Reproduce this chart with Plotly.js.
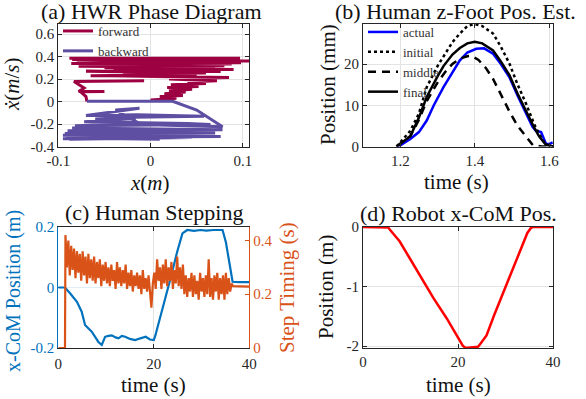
<!DOCTYPE html>
<html>
<head>
<meta charset="utf-8">
<script src="https://cdn.plot.ly/plotly-3.0.1.min.js"></script>
<style>
  html, body { margin: 0; padding: 0; background: #fff; }
  #chart { width: 586px; height: 399px; }
</style>
</head>
<body>
<div id="chart"></div>
<script>
// (a) phase diagram, null breaks the line
const fwdX = [-0.088, 0.097, -0.085, 0.107, -0.080, 0.092, -0.072, 0.098, -0.086, 0.088, -0.060, 0.080, -0.078, 0.070, -0.050, 0.090, -0.040, 0.076, -0.070, 0.060, -0.030, 0.050, -0.065, 0.030, -0.040, 0.085, 0.020, 0.072, 0.040, 0.060, 0.022, 0.052, 0.018, 0.045, 0.020, 0.038, 0.015, 0.035, 0.010, 0.028, 0.000, 0.024,
  null, -0.007, -0.083, -0.072, -0.078, -0.050, -0.076, -0.070, -0.069];
const fwdY = [0.385, 0.385, 0.375, 0.362, 0.368, 0.355, 0.350, 0.345, 0.338, 0.335, 0.328, 0.318, 0.315, 0.305, 0.300, 0.285, 0.285, 0.268, 0.270, 0.255, 0.250, 0.240, 0.230, 0.228, 0.228, 0.215, 0.200, 0.185, 0.175, 0.160, 0.150, 0.135, 0.125, 0.110, 0.095, 0.085, 0.070, 0.055, 0.045, 0.030, 0.015, 0.012,
  null, 0.185, 0.178, 0.120, 0.090, 0.090, 0.088, 0.045, 0.000];
const bwdX = [-0.069, 0.024, 0.050, 0.078, -0.010, -0.038, -0.012, -0.070, -0.015, 0.058, -0.020, -0.060, -0.016, -0.072, 0.040, 0.065, -0.082, -0.015, -0.085, 0.078, -0.090, 0.070, -0.093, 0.050, -0.095, 0.076, -0.090, 0.030, -0.095, 0.060, -0.088, 0.045, -0.092, 0.010];
const bwdY = [0.002, 0.002, -0.075, -0.225, -0.205, -0.075, -0.060, -0.125, -0.118, -0.130, -0.140, -0.155, -0.150, -0.180, -0.195, -0.205, -0.215, -0.200, -0.235, -0.250, -0.260, -0.280, -0.285, -0.270, -0.300, -0.310, -0.320, -0.300, -0.330, -0.310, -0.335, -0.320, -0.325, -0.335];

// (b) foot height, mm
const actT = [1.19, 1.2, 1.227, 1.25, 1.271, 1.29, 1.316, 1.34, 1.36, 1.38, 1.404, 1.425, 1.449, 1.47, 1.493, 1.515, 1.538, 1.555, 1.564, 1.578, 1.591, 1.6, 1.609];
const actZ = [0, 0.3, 1.8, 3.5, 6.3, 10, 14.4, 18, 20.9, 22.8, 23.7, 23.8, 22.5, 20, 16.8, 12.3, 7.9, 4.8, 3.8, 3.5, 0.7, 0.6, 1.0];
const estT = [1.19, 1.227, 1.25, 1.271, 1.3, 1.316, 1.34, 1.36, 1.38, 1.4, 1.42, 1.449, 1.47, 1.493, 1.515, 1.538, 1.56, 1.573, 1.59, 1.61];
const initZ = [0, 3.8, 8, 14.4, 19.5, 21.7, 25.3, 27.4, 29.2, 29.7, 29.2, 27.4, 24.2, 20.1, 15, 10.3, 5.3, 3, 0.5, 0];
const finalZ = [0, 2.5, 7, 12, 17, 19.5, 22.3, 23.9, 25, 25.4, 25, 23.3, 20.6, 17.3, 12.8, 8.5, 4.5, 2.4, 0.5, 0];
const midT = [1.19, 1.227, 1.25, 1.271, 1.3, 1.32, 1.34, 1.36, 1.38, 1.39, 1.41, 1.43, 1.449, 1.47, 1.493, 1.515, 1.538, 1.556, 1.58, 1.61];
const midZ = [0, 2.5, 6.5, 11, 15.5, 18, 20, 21.3, 21.9, 22, 21, 19, 16.4, 12.5, 8.5, 5, 2.4, 0.3, 0, 0];

// (c) human stepping
const comT = [0, 1.4, 2.5, 3.9, 4.9, 5.6, 7.0, 8.4, 9.1, 9.8, 10.5, 11.2, 12.0, 12.6, 13.3, 14.0, 15.0, 16.1, 17.2, 18.3, 19.2, 20.0, 20.3, 21.0, 22.1, 23.5, 24.9, 26.0, 27.0, 28.4, 29.8, 31.0, 32.5, 33.3, 34.4, 35.1, 35.8, 36.5, 38.0, 40];
const comX = [0, 0, -0.02, -0.047, -0.08, -0.124, -0.146, -0.18, -0.19, -0.163, -0.16, -0.158, -0.165, -0.168, -0.16, -0.163, -0.17, -0.174, -0.168, -0.163, -0.172, -0.174, -0.16, -0.12, -0.059, 0.03, 0.118, 0.179, 0.19, 0.187, 0.19, 0.188, 0.19, 0.19, 0.19, 0.15, 0.085, 0.019, 0.018, 0.018];
const stepT = [0, 1.4,
  1.5, 1.8, 2.1, 2.4, 2.7, 3.0, 3.3, 3.6, 3.9, 4.2,
  4.5, 4.8, 5.1, 5.4, 5.7, 6.0, 6.3, 6.6, 6.9, 7.2,
  7.5, 7.8, 8.1, 8.4, 8.7, 9.0, 9.3, 9.6, 9.9, 10.2,
  10.5, 10.8, 11.1, 11.4, 11.7, 12.0, 12.3, 12.6, 12.9, 13.2,
  13.5, 13.8, 14.1, 14.4, 14.7, 15.0, 15.3, 15.6, 15.9, 16.2,
  16.5, 16.8, 17.1, 17.4, 17.7, 18.0, 18.3, 18.6, 18.9, 19.2,
  19.5, 19.8, 20.1, 20.4, 20.7, 21.0, 21.3, 21.6, 21.9, 22.2,
  22.5, 22.8, 23.1, 23.4, 23.7, 24.0, 24.3, 24.6, 24.9, 25.2,
  25.5, 25.8, 26.1, 26.4, 26.7, 27.0, 27.3, 27.6, 27.9, 28.2,
  28.5, 28.8, 29.1, 29.4, 29.7, 30.0, 30.3, 30.6, 30.9, 31.2,
  31.5, 31.8, 32.1, 32.4, 32.7, 33.0, 33.3, 33.6, 33.9, 34.2,
  34.5, 34.8, 35.1, 35.4, 35.7, 36.0, 36.3, 36.6,
  40];
const stepDur = [0, 0,
  0.42, 0.30, 0.40, 0.27, 0.38, 0.29, 0.37, 0.26, 0.36, 0.28,
  0.35, 0.25, 0.36, 0.27, 0.34, 0.24, 0.35, 0.26, 0.33, 0.25,
  0.34, 0.24, 0.32, 0.26, 0.33, 0.23, 0.31, 0.25, 0.32, 0.24,
  0.30, 0.23, 0.31, 0.25, 0.29, 0.22, 0.32, 0.24, 0.30, 0.23,
  0.29, 0.24, 0.31, 0.22, 0.28, 0.23, 0.29, 0.21, 0.27, 0.23,
  0.28, 0.22, 0.27, 0.20, 0.29, 0.22, 0.26, 0.21, 0.27, 0.20,
  0.15, 0.24, 0.28, 0.22, 0.33, 0.25, 0.30, 0.22, 0.31, 0.24,
  0.33, 0.23, 0.30, 0.25, 0.32, 0.22, 0.29, 0.24, 0.34, 0.23,
  0.30, 0.22, 0.31, 0.20, 0.27, 0.19, 0.26, 0.21, 0.28, 0.19,
  0.27, 0.20, 0.25, 0.18, 0.28, 0.21, 0.26, 0.19, 0.27, 0.20,
  0.33, 0.19, 0.26, 0.18, 0.27, 0.21, 0.28, 0.18, 0.26, 0.20,
  0.27, 0.18, 0.28, 0.20, 0.26, 0.21, 0.24, 0.23,
  0.228];

// (d) robot CoM
const robT = [0, 5.0, 5.3, 5.8, 7.7, 9.8, 12.3, 14.8, 17.6, 20.4, 21.0, 21.6, 24.2, 24.8, 26.0, 27.6, 30.0, 32.5, 34.6, 35.3, 35.8, 40];
const robX = [0, 0, -0.01, -0.06, -0.24, -0.52, -0.86, -1.19, -1.53, -1.9, -1.99, -2.03, -2.01, -1.95, -1.82, -1.48, -1.0, -0.53, -0.1, -0.02, 0, 0];

const FONT = '"Liberation Serif", "Times New Roman", serif';
const DARK = '#262626';
const GRID = '#e3e3e3';

function frame(extra) {
  return Object.assign({
    showline: true, linecolor: DARK, linewidth: 1, mirror: 'ticks',
    ticks: 'inside', ticklen: 4, tickcolor: DARK,
    showgrid: true, gridcolor: GRID, zeroline: false,
    tickfont: { family: FONT, size: 15, color: DARK }
  }, extra);
}

let traces = [
  { x: fwdX, y: fwdY, type: 'scatter', mode: 'lines', name: 'forward', connectgaps: false,
    line: { color: '#9E0142', width: 3 }, xaxis: 'x', yaxis: 'y', legend: 'legend' },
  { x: bwdX, y: bwdY, type: 'scatter', mode: 'lines', name: 'backward',
    line: { color: '#5E4FA2', width: 3 }, xaxis: 'x', yaxis: 'y', legend: 'legend' },
  { x: actT, y: actZ, type: 'scatter', mode: 'lines', name: 'actual',
    line: { color: '#0000FF', width: 2.5 }, xaxis: 'x2', yaxis: 'y2', legend: 'legend2' },
  { x: estT, y: initZ, type: 'scatter', mode: 'lines', name: 'initial',
    line: { color: '#000', width: 2.5, dash: 'dot' }, xaxis: 'x2', yaxis: 'y2', legend: 'legend2' },
  { x: midT, y: midZ, type: 'scatter', mode: 'lines', name: 'middle',
    line: { color: '#000', width: 2.5, dash: '8px,6px' }, xaxis: 'x2', yaxis: 'y2', legend: 'legend2' },
  { x: estT, y: finalZ, type: 'scatter', mode: 'lines', name: 'final',
    line: { color: '#000', width: 2.5 }, xaxis: 'x2', yaxis: 'y2', legend: 'legend2' },
  { x: comT, y: comX, type: 'scatter', mode: 'lines', showlegend: false,
    line: { color: '#0072BD', width: 2.2 }, xaxis: 'x3', yaxis: 'y3' },
  { x: stepT, y: stepDur, type: 'scatter', mode: 'lines', showlegend: false,
    line: { color: '#D95319', width: 2.2 }, xaxis: 'x3', yaxis: 'y4' },
  { x: robT, y: robX, type: 'scatter', mode: 'lines', showlegend: false,
    line: { color: '#FF0000', width: 2.5 }, xaxis: 'x4', yaxis: 'y5' }
];

const colA = [0.0995, 0.4254], colB = [0.6195, 0.9437];
const rowTop = [0.6328, 0.9398], rowBot = [0.1278, 0.4311];

function note(text, x, y, size, color, angle) {
  return { text: text, x: x / 586, y: 1 - y / 399, xref: 'paper', yref: 'paper',
    xanchor: 'center', yanchor: 'middle', showarrow: false, textangle: angle || 0,
    font: { family: FONT, size: size, color: color || '#111', weight: 'normal' } };
}

let layout = {
  width: 586, height: 399,
  margin: { l: 0, r: 0, t: 0, b: 0 },
  paper_bgcolor: '#fff', plot_bgcolor: '#fff',
  font: { family: FONT },
  xaxis: frame({ domain: colA, anchor: 'y', range: [-0.1, 0.107],
    tickvals: [-0.1, 0, 0.1], ticktext: ['-0.1', '0', '0.1'] }),
  yaxis: frame({ domain: rowTop, anchor: 'x', range: [-0.4, 0.69],
    tickvals: [-0.4, -0.2, 0, 0.2, 0.4, 0.6], ticktext: ['-0.4', '-0.2', '0', '0.2', '0.4', '0.6'] }),
  xaxis2: frame({ domain: colB, anchor: 'y2', range: [1.1, 1.61],
    tickvals: [1.2, 1.4, 1.6], ticktext: ['1.2', '1.4', '1.6'] }),
  yaxis2: frame({ domain: rowTop, anchor: 'x2', range: [0, 29.7],
    tickvals: [0, 10, 20], ticktext: ['0', '10', '20'] }),
  xaxis3: frame({ domain: colA, anchor: 'y3', range: [0, 40], ticklabelstandoff: 2,
    tickvals: [0, 20, 40], ticktext: ['0', '20', '40'] }),
  yaxis3: frame({ domain: rowBot, anchor: 'x3', range: [-0.2, 0.2], mirror: false,
    linecolor: '#0072BD', tickcolor: '#0072BD', gridcolor: '#e2eef7',
    tickvals: [-0.2, 0, 0.2], ticktext: ['-0.2', '0', '0.2'],
    tickfont: { family: FONT, size: 15, color: '#0072BD' } }),
  yaxis4: frame({ domain: rowBot, anchor: 'x3', overlaying: 'y3', side: 'right', range: [0, 0.45],
    mirror: false, showgrid: false, linecolor: '#D95319', tickcolor: '#D95319',
    tickvals: [0, 0.2, 0.4], ticktext: ['0', '0.2', '0.4'],
    tickfont: { family: FONT, size: 15, color: '#D95319' } }),
  xaxis4: frame({ domain: colB, anchor: 'y5', range: [0, 40],
    tickvals: [0, 20, 40], ticktext: ['0', '20', '40'] }),
  yaxis5: frame({ domain: rowBot, anchor: 'x4', range: [-2.03, 0],
    tickvals: [-2, -1, 0], ticktext: ['-2', '-1', '0'] }),
  legend: { x: 58 / 586, y: 1 - 16 / 399, xanchor: 'left', yanchor: 'top',
    bgcolor: 'rgba(0,0,0,0)', borderwidth: 0, font: { family: FONT, size: 13, color: '#333' } },
  legend2: { x: 363 / 586, y: 1 - 17 / 399, xanchor: 'left', yanchor: 'top',
    bgcolor: 'rgba(0,0,0,0)', borderwidth: 0, font: { family: FONT, size: 13, color: '#333' } },
  annotations: [
    note('(a) HWR Phase Diagram', 152, 11, 22),
    note('(b) Human z-Foot Pos. Est.', 455, 11, 22),
    note('(c) Human Stepping', 154, 212, 22),
    note('(d) Robot x-CoM Pos.', 458, 213, 22),
    note('<i>ẋ</i>(<i>m</i>/<i>s</i>)', 12, 84, 21, '#111', -90),
    note('<i>x</i>(<i>m</i>)', 150, 183, 21),
    note('Position (mm)', 328, 85, 21, '#111', -90),
    note('time (s)', 457, 182, 21),
    note('x-CoM Position (m)', 13, 291, 20, '#0072BD', -90),
    note('Step Timing (s)', 287, 288, 21, '#D95319', -90),
    note('time (s)', 153, 385, 21),
    note('Position (m)', 326, 287, 21, '#111', -90),
    note('time (s)', 458, 385, 21)
  ]
};

Plotly.newPlot('chart', traces, layout, { staticPlot: true });
</script>
</body>
</html>
